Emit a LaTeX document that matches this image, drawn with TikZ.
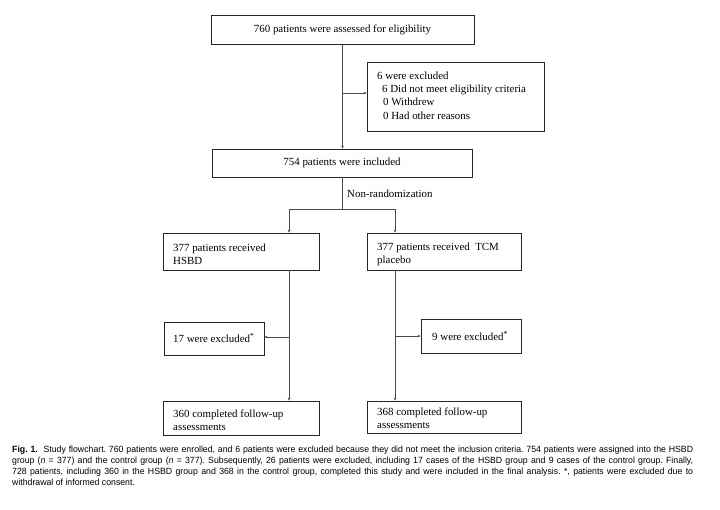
\documentclass[tikz,border=0pt]{standalone}
\usepackage{fontspec}
\setmainfont{Liberation Serif}
\newfontfamily\capfont[FakeStretch=0.97]{Liberation Sans}
\usetikzlibrary{arrows.meta}
\begin{document}
\begin{tikzpicture}[x=1pt,y=-1pt,
  txt/.style={inner sep=0pt,font=\fontsize{10.9}{12.8}\selectfont},
  box/.style={draw=black!85,line width=0.7pt,inner sep=0pt,font=\fontsize{10.9}{12.8}\selectfont},
  arr/.style={draw=black!70,line width=0.7pt,-{Stealth[length=3pt,width=2.6pt]}},
  ln/.style={draw=black!70,line width=0.7pt}]
\useasboundingbox (0,0) rectangle (720,509);
\fill[white] (0,0) rectangle (720,509);
% boxes
\node[box,minimum width=263pt,minimum height=29pt] (b1) at (342.5,30) {760 patients were assessed for eligibility};
\node[box,minimum width=177pt,minimum height=69pt] (ex) at (455.5,96.5) {};
\node[txt,anchor=west,align=left,font=\fontsize{10.9}{13.4}\selectfont] (extxt) at (377,95.5)
  {6 were excluded\\\hspace{5pt}6 Did not meet eligibility criteria\\\hspace{6pt}0 Withdrew\\\hspace{6pt}0 Had other reasons};
\node[box,minimum width=260pt,minimum height=28pt] (b2) at (342,163) {754 patients were included};
\node[box,minimum width=156pt,minimum height=37pt] (L) at (241,251.5) {};
\node[txt,anchor=west,align=left] (Ltxt) at (173,254) {377 patients received\\HSBD};
\node[box,minimum width=154pt,minimum height=37pt] (R) at (444,251.5) {};
\node[txt,anchor=west,align=left] (Rtxt) at (377,254) {377 patients received\ \ TCM\\placebo};
\node[box,minimum width=100pt,minimum height=33pt] (exL) at (214,338.5) {};
\node[txt,anchor=west] (exLtxt) at (173,338) {17 were excluded\textsuperscript{*}};
\node[box,minimum width=100pt,minimum height=34pt] (exR) at (471,336) {};
\node[txt,anchor=west] (exRtxt) at (432,336) {9 were excluded\textsuperscript{*}};
\node[box,minimum width=156pt,minimum height=34pt] (LL) at (241,418) {};
\node[txt,anchor=west,align=left] (LLtxt) at (173,420) {360 completed follow-up\\assessments};
\node[box,minimum width=154pt,minimum height=32pt] (RR) at (444,417) {};
\node[txt,anchor=west,align=left] (RRtxt) at (377,418) {368 completed follow-up\\assessments};
\node[txt,anchor=west] (nr) at (347,194) {Non-randomization};
% coordinates
\coordinate (t1) at (342.5,93);
\coordinate (sp) at (342,209);
\coordinate (spL) at (289,209);
\coordinate (spR) at (395,209);
\coordinate (bl) at (289,337);
\coordinate (br) at (395,336);
% connectors
\draw[arr] (b1.south) -- (b1.south |- b2.north);
\draw[arr] (t1) -- (t1 -| ex.west);
\draw[ln] (b2.south) -- (sp);
\draw[ln] (spL) -- (spR);
\draw[arr] (spL) -- (spL |- L.north);
\draw[arr] (spR) -- (spR |- R.north);
\draw[arr] (spL |- L.south) -- (spL |- LL.north);
\draw[arr] (bl) -- (bl -| exL.east);
\draw[arr] (spR |- R.south) -- (spR |- RR.north);
\draw[arr] (br) -- (br -| exR.west);
% caption
\node[anchor=north west,inner sep=0pt,text width=681pt,align=justify,
  font=\capfont\fontsize{9}{11}\selectfont\frenchspacing] (cap) at (12,446)
{\textbf{Fig.~1.}\ \ Study flowchart. 760 patients were enrolled, and 6 patients were excluded because they did not meet the inclusion criteria. 754 patients were assigned into the HSBD\linebreak
group (\textit{n} = 377) and the control group (\textit{n} = 377). Subsequently, 26 patients were excluded, including 17 cases of the HSBD group and 9 cases of the control group. Finally,\linebreak
728 patients, including 360 in the HSBD group and 368 in the control group, completed this study and were included in the final analysis. *, patients were excluded due to\linebreak
withdrawal of informed consent.\par};
\end{tikzpicture}
\end{document}
